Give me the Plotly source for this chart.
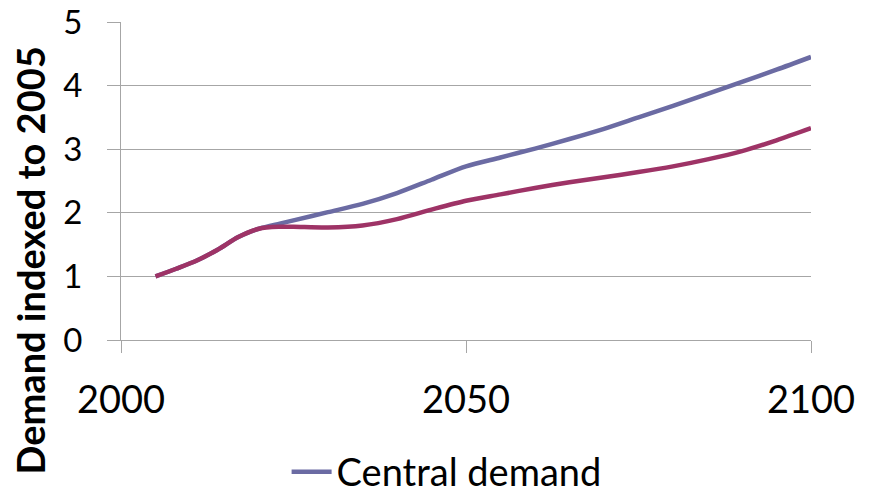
import plotly.graph_objects as go

years = [2005, 2008, 2011, 2014, 2017, 2020, 2023, 2025, 2030, 2035, 2040, 2045, 2050,
         2055, 2060, 2065, 2070, 2075, 2080, 2085, 2090, 2095, 2100]
central = [1.00, 1.12, 1.25, 1.42, 1.62, 1.75, 1.83, 1.88, 2.01, 2.14, 2.31, 2.52, 2.73,
           2.87, 3.01, 3.16, 3.32, 3.50, 3.68, 3.87, 4.06, 4.25, 4.45]
low = [1.00, 1.12, 1.25, 1.42, 1.62, 1.75, 1.78, 1.78, 1.77, 1.80, 1.90, 2.05, 2.19,
       2.29, 2.39, 2.48, 2.56, 2.64, 2.73, 2.84, 2.97, 3.14, 3.33]
x_ticks = [2000, 2050, 2100]
y_ticks = [0, 1, 2, 3, 4, 5]
series_names = ["Central demand", "Low demand"]
y_title = "Demand indexed to 2005"

FONT = "Lato"
GRID = "#A6A6A6"

fig = go.Figure()
fig.add_trace(go.Scatter(x=years, y=central, mode="lines", name=series_names[0],
                         line=dict(color="#6B6BA3", width=4.5, shape="spline", smoothing=0.8)))
fig.add_trace(go.Scatter(x=years, y=low, mode="lines", name=series_names[1], showlegend=False,
                         line=dict(color="#9E3366", width=4.5, shape="spline", smoothing=0.8)))

fig.update_layout(
    width=870, height=497,
    margin=dict(l=121, r=59, t=22, b=157, autoexpand=False),
    paper_bgcolor="white", plot_bgcolor="white",
    font=dict(family=FONT, color="black"),
    showlegend=True,
    legend=dict(x=0.24, y=-0.415, xanchor="left", yanchor="middle",
                orientation="h", font=dict(size=38, family=FONT),
                bgcolor="rgba(0,0,0,0)", itemwidth=40, borderwidth=0),
    xaxis=dict(range=[2000, 2100], tickvals=x_ticks, ticktext=[str(v) for v in x_ticks],
               showgrid=False, zeroline=False, showline=True, linecolor=GRID, linewidth=1,
               ticks="outside", ticklen=12, tickcolor=GRID, tickwidth=1, automargin=False,
               tickfont=dict(size=38, family=FONT), ticklabelstandoff=14),
    yaxis=dict(range=[0, 5], tickvals=y_ticks, showgrid=True, gridcolor=GRID, gridwidth=1,
               zeroline=False, showline=True, linecolor=GRID, linewidth=1,
               ticks="outside", ticklen=13, tickcolor=GRID, tickwidth=1, automargin=False,
               tickfont=dict(size=33, family=FONT), ticklabelstandoff=18),
)

fig.add_annotation(text="<b>" + y_title + "</b>", xref="paper", yref="paper",
                   x=-0.132, y=0.25, xanchor="center", yanchor="middle",
                   textangle=-90, showarrow=False,
                   font=dict(size=38, family=FONT, color="black"))

fig.write_html("out.html")
